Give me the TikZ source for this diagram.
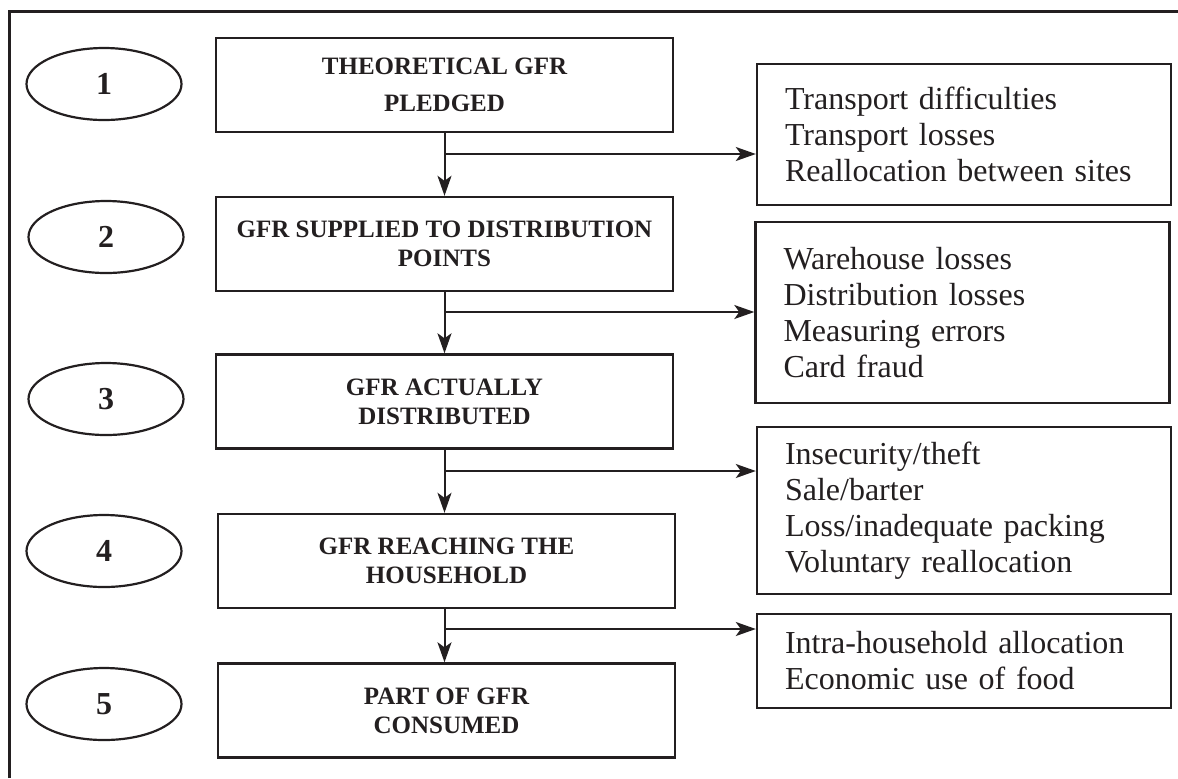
\documentclass[tikz,border=0pt]{standalone}
\usepackage{fontspec}
\setmainfont{Liberation Serif}
\usepackage{xcolor}
\usetikzlibrary{arrows, arrows.meta, shapes.geometric}
\definecolor{ink}{HTML}{231F20}
\tikzset{
  stage/.style={draw=ink, line width=1.2pt, minimum width=228.5pt, minimum height=47pt, inner sep=0pt,
    align=center, text=ink, font=\bfseries\fontsize{12.5}{14.5}\selectfont},
  num/.style={ellipse, draw=ink, line width=1.1pt, minimum width=77.5pt, minimum height=36pt, inner sep=0pt,
    text=ink, font=\bfseries\fontsize{16}{18}\selectfont},
  loss/.style={draw=ink, line width=1.2pt, text width=179pt, inner xsep=14pt, inner ysep=0pt,
    align=left, text=ink, font=\fontsize{16}{18}\selectfont},
  flow/.style={-{Stealth[length=10pt, width=7pt, inset=2.5pt]}, draw=ink, line width=1pt}
}

\begin{document}
\begin{tikzpicture}[x=0.5pt, y=-0.5pt]
\path[use as bounding box] (0,0) rectangle (1178,778);
\draw[ink, line width=1.5pt] (9,778) -- (9,11) -- (1178,11);

\node[num] (e1) at (104,84) {1};
\node[num] (e2) at (106,237) {2};
\node[num] (e3) at (106,399) {3};
\node[num] (e4) at (104,551) {4};
\node[num] (e5) at (104,704) {5};

\node[stage] (t1) at (444.5,85) {THEORETICAL GFR\\[4pt]PLEDGED};
\node[stage] (t2) at (444.5,244) {GFR SUPPLIED TO DISTRIBUTION\\POINTS};
\node[stage] (t3) at (444.5,401.5) {GFR ACTUALLY\\DISTRIBUTED};
\node[stage] (t4) at (446.5,561) {GFR REACHING THE\\HOUSEHOLD};
\node[stage] (t5) at (446.5,710.5) {PART OF GFR\\CONSUMED};

\node[loss, minimum height=70.5pt] (r1) at (964,134.5) {Transport difficulties\\Transport losses\\Reallocation between sites};
\node[loss, minimum height=90.5pt] (r2) at (962.5,312.5) {Warehouse losses\\Distribution losses\\Measuring errors\\Card fraud};
\node[loss, minimum height=83.5pt] (r3) at (964,510.5) {Insecurity/theft\\Sale/barter\\Loss/inadequate packing\\Voluntary reallocation};
\node[loss, minimum height=47pt] (r4) at (964,661) {Intra-household allocation\\Economic use of food};

\draw[flow] (t1.south) -- (t2.north);
\draw[flow] (t2.south) -- (t3.north);
\draw[flow] (t3.south) -- (t3.south |- t4.north);
\draw[flow] (t4.south -| t3.south) -- (t3.south |- t5.north);

\coordinate (s1) at (t1.south |- 0,154);
\coordinate (s2) at (t2.south |- 0,312);
\coordinate (s3) at (t3.south |- 0,471);
\coordinate (s4) at (t3.south |- 0,629);
\draw[flow] (s1) -- (s1 -| r1.west);
\draw[flow] (s2) -- (s2 -| r2.west);
\draw[flow] (s3) -- (s3 -| r3.west);
\draw[flow] (s4) -- (s4 -| r4.west);
\end{tikzpicture}
\end{document}
